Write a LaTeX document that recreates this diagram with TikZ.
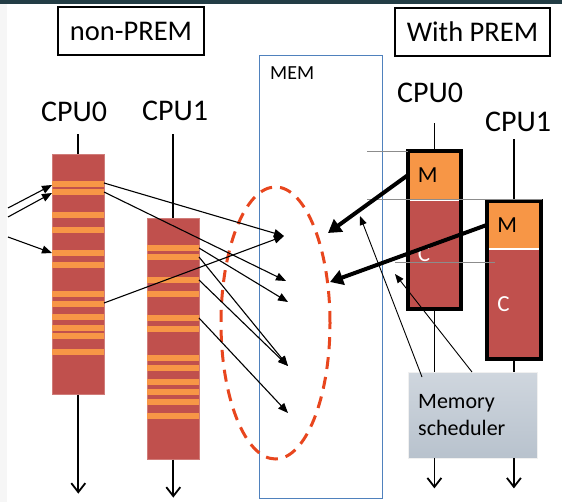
\documentclass[tikz,border=0pt]{standalone}
\usepackage{fontspec}
\setmainfont{Carlito}
\usetikzlibrary{arrows.meta,positioning,shapes.geometric}
\definecolor{barred}{HTML}{C0504D}
\definecolor{stripe}{HTML}{F79646}
\definecolor{memblue}{HTML}{4F81BD}
\definecolor{dashred}{HTML}{E8461E}
\definecolor{schedtop}{HTML}{CFD6DE}
\definecolor{schedbot}{HTML}{B8C2CD}
\definecolor{topband}{HTML}{233D45}
\definecolor{guidegray}{HTML}{8C8C8C}

\begin{document}
\begin{tikzpicture}[x=1pt,y=-1pt,
  tag/.style={draw=black,line width=1.2pt,minimum height=48pt,inner sep=0pt,
              font=\fontsize{28.5}{33}\selectfont},
  cpu/.style={font=\fontsize{30}{36}\selectfont,inner sep=0pt},
  bar/.style={fill=barred,draw=barred!75!white,line width=0.6pt,minimum width=52pt,
              inner sep=0pt,anchor=north west},
  stem/.style={line width=1.8pt},
  down/.style={line width=1.8pt,-{Straight Barb[length=9pt,width=14pt]}},
  req/.style={line width=1.1pt,-{Triangle[length=10pt,width=8pt]}},
  bulk/.style={line width=4pt,-{Triangle[length=13pt,width=15pt]}},
  cell/.style={minimum width=53pt,text width=33pt,inner xsep=10pt,align=left,
               font=\fontsize{23}{27}\selectfont,draw=white,line width=0.8pt},
  guide/.style={draw=guidegray,line width=0.6pt}
]
\useasboundingbox (0,0) rectangle (562,502);
\fill[topband] (0,0) rectangle (562,4);
\fill[gray!7] (0,4) rectangle (7,502);

% titles
\node[tag,minimum width=146pt] (np) at (131,31) {non-PREM};
\node[tag,minimum width=155pt] (wp) at (472.5,32) {With PREM};

% memory
\node[draw=memblue,line width=0.8pt,minimum width=123pt,minimum height=443pt,
      anchor=north west] (mem) at (259,55) {};
\node[anchor=north west,inner sep=0pt,font=\fontsize{20}{24}\selectfont] (memlbl) at (270,66) {MEM};
\node[draw=dashred,line width=3pt,dash pattern=on 12pt off 8pt,ellipse,
      minimum width=109pt,minimum height=272pt] (ell) at (275.5,323) {};

% non-PREM cores
\node[cpu] (l0) at (74,112) {CPU0};
\node[cpu] (l1) at (175,111) {CPU1};
\node[bar,minimum height=240pt] (b0) at (52,154) {};
\node[bar,minimum height=241pt] (b1) at (147,218) {};
\foreach \y in {181,189,212,227,250,262,291,301,314,325,333,349}
  \fill[stripe] (52,\y) rectangle (104,\y+6);
\foreach \y in {245,254,277,291,315,326,355,365,379,389,399,413}
  \fill[stripe] (147,\y) rectangle (199,\y+6);
\draw[stem] (b0.north) -- ++(0,-20);
\draw[stem] (b1.north) -- ++(0,-84);
\draw[down] (b0.south) -- ++(0,99);
\draw[down] (b1.south) -- ++(0,38);

% requests
\coordinate (q1) at (284,236);
\coordinate (q2) at (286,281);
\coordinate (q3) at (288,302);
\coordinate (q4) at (288,366);
\coordinate (q5) at (288,413);
\draw[req] (8,208) -- (52,185);
\draw[req] (8,217) -- (52,193);
\draw[req] (8,237) -- (52,253);
\draw[req] (104,183) -- (q1);
\draw[req] (104,192) -- (q2);
\draw[req] (104,303) -- (q1);
\draw[req] (199,248) -- (q3);
\draw[req] (199,257) -- (q4);
\draw[req] (199,280) -- (q4);
\draw[req] (199,318) -- (q5);

% PREM cores
\node[cpu] (r0) at (430,93) {CPU0};
\node[cpu] (r1) at (518,122) {CPU1};
\node[cell,fill=stripe,minimum height=48pt,anchor=north west] (m0) at (407.5,151) {M};
\node[cell,fill=barred,text=white,minimum height=108pt,below=0pt of m0] (c0) {C};
\node[cell,fill=stripe,minimum height=47pt,anchor=north west] (m1) at (487,201) {M};
\node[cell,fill=barred,text=white,minimum height=109pt,below=0pt of m1] (c1) {C};
\draw[line width=4pt] (m0.north west) rectangle (c0.south east);
\draw[line width=4pt] (m1.north west) rectangle (c1.south east);
\draw[stem] (m0.north) -- ++(0,-28);
\draw[stem] (m1.north) -- ++(0,-62);

\node[top color=schedtop,bottom color=schedbot,draw=white!88!gray,minimum width=129pt,
      minimum height=86pt,text width=109pt,inner xsep=10pt,align=left,anchor=north west,
      font=\fontsize{22}{27}\selectfont] (sched) at (408,372) {Memory\\scheduler};
\draw[stem] (c0.south) -- (c0.south |- sched.north);
\draw[stem] (c1.south) -- (c1.south |- sched.north);
\draw[down] (c0.south |- sched.south) -- ++(0,30);
\draw[down] (c1.south |- sched.south) -- ++(0,30);

% guide lines
\draw[guide] (367,151) -- (m0.north west);
\draw[guide] (367,199) -- (542,199);
\draw[guide] (395,262) -- (495,262);

% bulk transfers
\coordinate (p0) at (328,233);
\coordinate (p1) at (330,282);
\draw[bulk] (m0.west) -- (p0);
\draw[bulk] (m1.west) -- (p1);

% scheduler control
\coordinate (s0) at (422,377);
\coordinate (s1) at (472,372);
\coordinate (t0) at (360,216);
\coordinate (t1) at (395,274);
\draw[line width=0.9pt,-{Triangle[length=9pt,width=7pt]}] (s0) -- (t0);
\draw[line width=0.9pt,-{Triangle[length=9pt,width=7pt]}] (s1) -- (t1);
\end{tikzpicture}
\end{document}
